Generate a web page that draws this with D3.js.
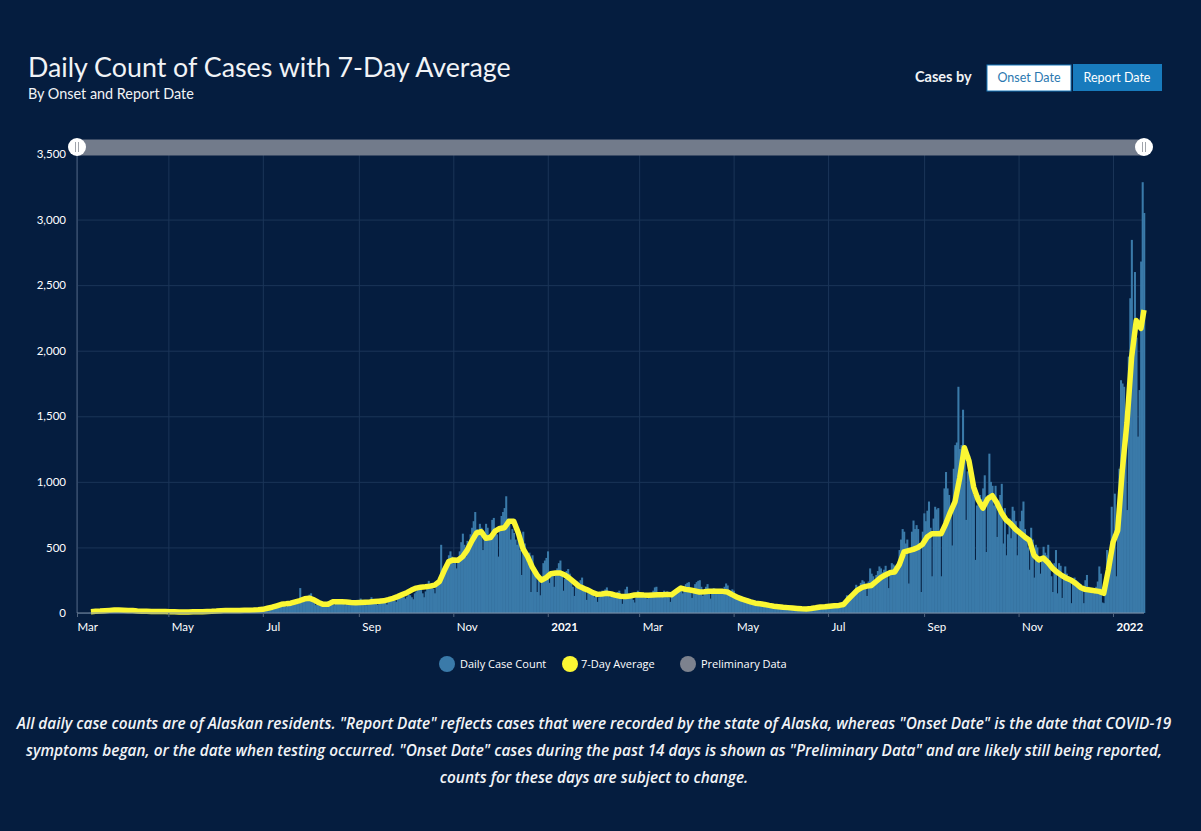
<!DOCTYPE html>
<html>
<head>
<meta charset="utf-8">
<script src="https://cdn.jsdelivr.net/npm/d3@7"></script>
<style>
  html, body { margin: 0; padding: 0; background: #051d3f; }
  svg { display: block; }
  .eje text { fill: #fff; font-family: Lato, sans-serif; font-size: 11.5px; }
  .eje .domain { display: none; }
  .rejilla line { stroke: #1b3558; stroke-width: 1px; }
  .rejilla .domain { display: none; }
  .rejilla text { display: none; }
</style>
</head>
<body>
<div id="graf"></div>
<script>
// I. Datos
blockStarts = ['2020-03-11', '2020-04-03', '2020-05-03', '2020-06-03', '2020-07-03', '2020-08-03',
  '2020-09-02', '2020-10-02', '2020-11-02', '2020-12-02', '2021-01-02', '2021-02-02', '2021-03-02',
  '2021-04-02', '2021-05-02', '2021-06-02', '2021-07-01', '2021-08-01', '2021-09-01', '2021-10-01',
  '2021-11-01', '2021-12-01', '2022-01-01']

dailyBlocks = [
  [1,1,2,3,5,7,9,12,14,18,20,24,28,22,18,26,24,22,16,20,24,22,15],
  [18,20,22,26,18,14,16,20,22,18,16,14,12,16,18,14,12,10,14,12,16,14,10,9,12,14,10,8,10,12],
  [9,14,10,6,8,9,7,5,8,10,8,6,7,9,7,5,8,9,7,6,8,10,8,7,9,10,8,7,10,11,9],
  [8,11,13,10,9,12,15,12,10,14,18,16,13,17,20,18,15,19,22,20,17,21,24,20,18,22,25,22,20,26],
  [25,30,38,34,28,40,48,44,38,50,56,60,52,46,66,72,68,60,76,82,75,70,190,95,100,110,125,130,140,150,105],
  [80,60,66,72,90,85,78,62,80,90,88,82,76,60,75,95,88,85,80,72,60,78,92,90,86,80,65,70,90,95],
  [110,90,85,72,60,75,100,120,95,85,70,62,88,110,95,90,80,65,95,115,110,105,95,85,120,130,150,135,120,110],
  [125,140,135,120,105,150,165,180,190,175,150,120,165,210,245,220,210,185,150,200,215,230,520,310,290,350,400,440,470,430,380],
  [400,340,420,470,540,605,520,430,550,520,600,650,700,770,640,620,680,650,480,620,680,650,600,560,710,725,640,600,430,650],
  [740,770,800,890,720,680,560,640,610,560,520,600,480,290,620,530,420,380,460,160,440,340,300,160,300,135,280,380,400,420,470],
  [230,280,310,200,300,340,380,400,290,170,260,320,335,300,250,200,130,220,240,230,250,270,210,160,100,180,170,160,140,120,140],
  [85,120,150,170,170,180,195,140,120,130,140,120,150,160,170,140,70,130,180,200,150,120,130,100,80,120,170,140],
  [150,140,120,130,110,130,140,150,170,195,200,150,130,120,160,170,150,165,120,85,130,150,140,160,190,195,170,150,200,220,230],
  [235,180,115,190,220,235,245,250,200,130,170,200,220,160,110,170,190,185,180,170,160,150,175,200,225,210,170,150,180,170],
  [140,125,120,110,130,105,90,85,110,95,85,75,70,90,85,75,65,60,80,75,70,60,55,70,65,60,50,45,60,55,50],
  [45,40,38,50,48,42,35,32,45,42,38,32,28,40,38,34,30,26,38,35,32,30,28,40,42,35,30,45,48],
  [50,52,46,38,42,55,60,58,52,45,60,70,135,120,100,130,150,170,215,200,180,230,250,240,200,130,240,340,300,280,250],
  [290,320,355,340,310,330,360,280,190,330,380,370,360,300,340,480,560,640,620,530,560,225,480,620,705,640,670,640,500,160,620],
  [760,700,780,850,650,280,720,810,790,800,620,280,650,950,1075,950,900,800,515,1100,1280,1300,1725,1250,1280,1550,1200,710,1080,1200],
  [1000,980,900,405,820,880,900,870,950,1050,465,900,1215,1000,970,820,970,580,850,900,985,530,800,440,600,720,570,810,780,700,440],
  [600,700,780,850,640,560,500,330,650,560,270,520,500,430,300,400,505,460,440,520,400,280,160,380,480,150,380,360,115,300],
  [355,300,280,250,75,260,270,250,240,230,220,200,75,250,290,200,180,160,150,160,200,240,355,300,80,75,200,480,400,450,810],
  [600,910,280,800,1100,1775,1750,1725,1300,785,1955,2400,2845,1950,2600,2100,1345,1700,2680,3285,3050]
]

// promedio de 7 dias, un valor cada 3 dias desde el 12 de marzo de 2020
avgStart = '2020-03-12'
avgValues = [
  10,13,15,18,20,22,22,21,20,19,
  16,14,13,12,12,11,11,10,9,8,
  8,8,9,9,10,12,13,15,18,20,
  20,20,20,21,21,22,24,28,36,44,
  55,66,70,75,85,95,108,113,100,80,
  66,66,85,85,85,84,80,78,80,82,
  84,87,90,93,102,112,125,140,155,175,
  190,197,200,205,213,240,320,392,405,402,
  430,480,550,610,620,570,575,625,645,650,
  700,700,610,490,430,350,290,250,270,300,
  305,305,290,265,235,205,188,175,155,142,
  145,150,145,135,128,125,130,137,140,137,
  135,137,139,140,142,140,165,190,180,175,
  168,160,162,165,165,165,165,160,140,122,
  108,97,85,75,70,65,58,52,48,44,
  41,38,35,32,31,35,40,46,48,52,
  55,58,65,105,140,175,195,205,210,240,
  270,290,308,313,370,465,475,485,500,525,
  580,605,605,605,680,770,850,1030,1260,1160,
  960,860,800,870,895,840,765,710,680,640,
  610,580,555,440,405,420,385,340,310,285,
  265,250,225,195,180,175,170,165,150,330,
  540,630,1090,1450,1950,2230,2170,2310
]

yTicks = [0, 500, 1000, 1500, 2000, 2500, 3000, 3500]
legendItems = ['Daily Case Count', '7-Day Average', 'Preliminary Data']
noteLines = [
  'All daily case counts are of Alaskan residents. "Report Date" reflects cases that were recorded by the state of Alaska, whereas "Onset Date" is the date that COVID-19',
  'symptoms began, or the date when testing occurred. "Onset Date" cases during the past 14 days is shown as "Preliminary Data" and are likely still being reported,',
  'counts for these days are subject to change.'
]

// II. Configuracion
ancho_total = 1201
alto_total = 831
margins = { top: 154, left: 77, right: 57, bottom: 218 }
ancho = ancho_total - margins.left - margins.right
alto = alto_total - margins.top - margins.bottom

colorBar = '#3a7aa9'
colorAvg = '#fbf733'
colorPrelim = '#7d828e'

parseDay = d3.utcParse('%Y-%m-%d')

svg = d3.select('#graf').append('svg')
        .attr('width', ancho_total)
        .attr('height', alto_total)

x = d3.scaleUtc()
      .domain([parseDay('2020-03-03'), parseDay('2022-01-21')])
      .range([0, ancho])

y = d3.scaleLinear()
      .domain([0, 3500])
      .range([alto, 0])

g = svg.append('g')
       .attr('transform', `translate(${ margins.left }, ${ margins.top })`)

// el primer rotulo "Mar" queda en el inicio del eje
xTicks = [x.domain()[0]].concat(x.ticks(d3.utcMonth.every(2)))

// III. Rejilla
g.append('g')
 .attr('class', 'rejilla')
 .call(d3.axisLeft(y).tickValues(yTicks).tickSize(-ancho).tickFormat(''))

g.append('g')
 .attr('class', 'rejilla')
 .attr('transform', `translate(0, ${ alto })`)
 .call(d3.axisBottom(x).tickValues(xTicks).tickFormat(''))
 .selectAll('line')
 .attr('y2', -alto)

// IV. Barras
dailyData = []
blockStarts.forEach((m, i) => {
  dailyBlocks[i].forEach((v, j) => {
    dailyData.push({ date: d3.utcDay.offset(parseDay(m), j), value: v })
  })
})

anchoDia = x(d3.utcDay.offset(parseDay('2021-01-01'), 1)) - x(parseDay('2021-01-01'))

g.selectAll('rect.barra')
 .data(dailyData)
 .enter()
 .append('rect')
   .attr('class', 'barra')
   .attr('x', d => x(d.date) - anchoDia / 2)
   .attr('y', d => y(d.value))
   .attr('width', anchoDia + 0.5)
   .attr('height', d => alto - y(d.value))
   .attr('fill', colorBar)

// V. Promedio
lastDay = x.domain()[1]
avgData = avgValues.map((v, i) => {
  d = d3.utcDay.offset(parseDay(avgStart), i * 3)
  return { date: d > lastDay ? lastDay : d, value: v }
})

linea = d3.line()
          .x(d => x(d.date))
          .y(d => y(d.value))

g.append('path')
 .datum(avgData)
 .attr('d', linea)
 .attr('fill', 'none')
 .attr('stroke', colorAvg)
 .attr('stroke-width', 5.5)
 .attr('stroke-linejoin', 'round')

// VI. Ejes
g.append('line')
 .attr('x1', 0).attr('x2', 0)
 .attr('y1', 0).attr('y2', alto)
 .attr('stroke', '#4b5f7c')

g.append('line')
 .attr('x1', 0).attr('x2', ancho)
 .attr('y1', alto).attr('y2', alto)
 .attr('stroke', '#7d8fa5')

yAxis = g.append('g')
         .attr('class', 'eje')
         .call(d3.axisLeft(y).tickValues(yTicks).tickSize(0).tickPadding(11).tickFormat(d3.format(',')))

xAxis = g.append('g')
         .attr('class', 'eje')
         .attr('transform', `translate(0, ${ alto })`)
         .call(d3.axisBottom(x)
                 .tickValues(xTicks)
                 .tickSizeOuter(0)
                 .tickSize(4)
                 .tickPadding(6)
                 .tickFormat(d => d.getUTCMonth() == 0 ? d.getUTCFullYear() : d3.utcFormat('%b')(d)))

xAxis.selectAll('line').attr('stroke', '#52657f')
xAxis.selectAll('text')
     .attr('text-anchor', 'start')
     .attr('x', (d, i) => i == 0 ? 0 : 3)
     .style('font-weight', d => d.getUTCMonth() == 0 ? 700 : 400)

// VII. Control deslizante
slider = svg.append('g')
slider.append('rect')
      .attr('x', 77).attr('y', 139.5)
      .attr('width', 1067).attr('height', 16)
      .attr('fill', '#727b8b')

sliderX = [77, 1144]
handle = slider.selectAll('g')
               .data(sliderX)
               .enter()
               .append('g')
               .attr('transform', d => `translate(${ d }, 147)`)
handle.append('circle').attr('r', 9).attr('fill', '#fff')
handle.selectAll('line')
      .data([-1.5, 1.5])
      .enter()
      .append('line')
        .attr('x1', d => d).attr('x2', d => d)
        .attr('y1', -5).attr('y2', 5)
        .attr('stroke', '#a0a4ab')

// VIII. Titulos
svg.append('text')
   .attr('x', 28).attr('y', 77)
   .attr('fill', '#f1f3f6')
   .style('font-family', 'Lato, sans-serif')
   .style('font-size', '26.8px')
   .text('Daily Count of Cases with 7-Day Average')

svg.append('text')
   .attr('x', 28).attr('y', 99)
   .attr('fill', '#f1f3f6')
   .style('font-family', 'Lato, sans-serif')
   .style('font-size', '14.4px')
   .text('By Onset and Report Date')

svg.append('text')
   .attr('x', 915).attr('y', 82)
   .attr('fill', '#f1f3f6')
   .style('font-family', 'Lato, sans-serif')
   .style('font-size', '14.5px')
   .style('font-weight', 700)
   .text('Cases by')

svg.append('rect')
   .attr('x', 987).attr('y', 65)
   .attr('width', 84).attr('height', 26)
   .attr('fill', '#fff')
   .attr('stroke', '#187bbd')

svg.append('text')
   .attr('x', 1029).attr('y', 82)
   .attr('text-anchor', 'middle')
   .attr('fill', '#2b78b0')
   .style('font-family', 'Lato, sans-serif')
   .style('font-size', '12.5px')
   .text('Onset Date')

svg.append('rect')
   .attr('x', 1073).attr('y', 64)
   .attr('width', 89).attr('height', 27)
   .attr('fill', '#187bbd')

svg.append('text')
   .attr('x', 1117).attr('y', 82)
   .attr('text-anchor', 'middle')
   .attr('fill', '#fff')
   .style('font-family', 'Lato, sans-serif')
   .style('font-size', '12.5px')
   .text('Report Date')

// IX. Leyenda
legendColor = d3.scaleOrdinal()
                .domain(legendItems)
                .range([colorBar, colorAvg, colorPrelim])
legendCx = d3.scaleOrdinal()
             .domain(legendItems)
             .range([447, 570, 688])

leyenda = svg.selectAll('g.leyenda')
             .data(legendItems)
             .enter()
             .append('g')
             .attr('class', 'leyenda')
             .attr('transform', d => `translate(${ legendCx(d) }, 664)`)

leyenda.append('circle')
       .attr('r', 8)
       .attr('fill', d => legendColor(d))

leyenda.append('text')
       .attr('x', d => d == '7-Day Average' ? 11 : 13)
       .attr('y', 4)
       .attr('fill', '#fff')
       .style('font-family', "'Open Sans', sans-serif")
       .style('font-size', '11px')
       .text(d => d)

// X. Nota, un poco comprimida a lo ancho como en el original
nota = svg.append('g')
          .attr('transform', 'translate(594, 0) scale(0.962, 1)')

nota.selectAll('text')
    .data(noteLines)
    .enter()
    .append('text')
      .attr('x', 0)
      .attr('y', (d, i) => 729 + i * 27)
      .attr('text-anchor', 'middle')
      .attr('fill', '#f1f3f6')
      .style('font-family', "'Open Sans', sans-serif")
      .style('font-style', 'italic')
      .style('font-weight', 600)
      .style('font-size', '16px')
      .text(d => d)
</script>
</body>
</html>
